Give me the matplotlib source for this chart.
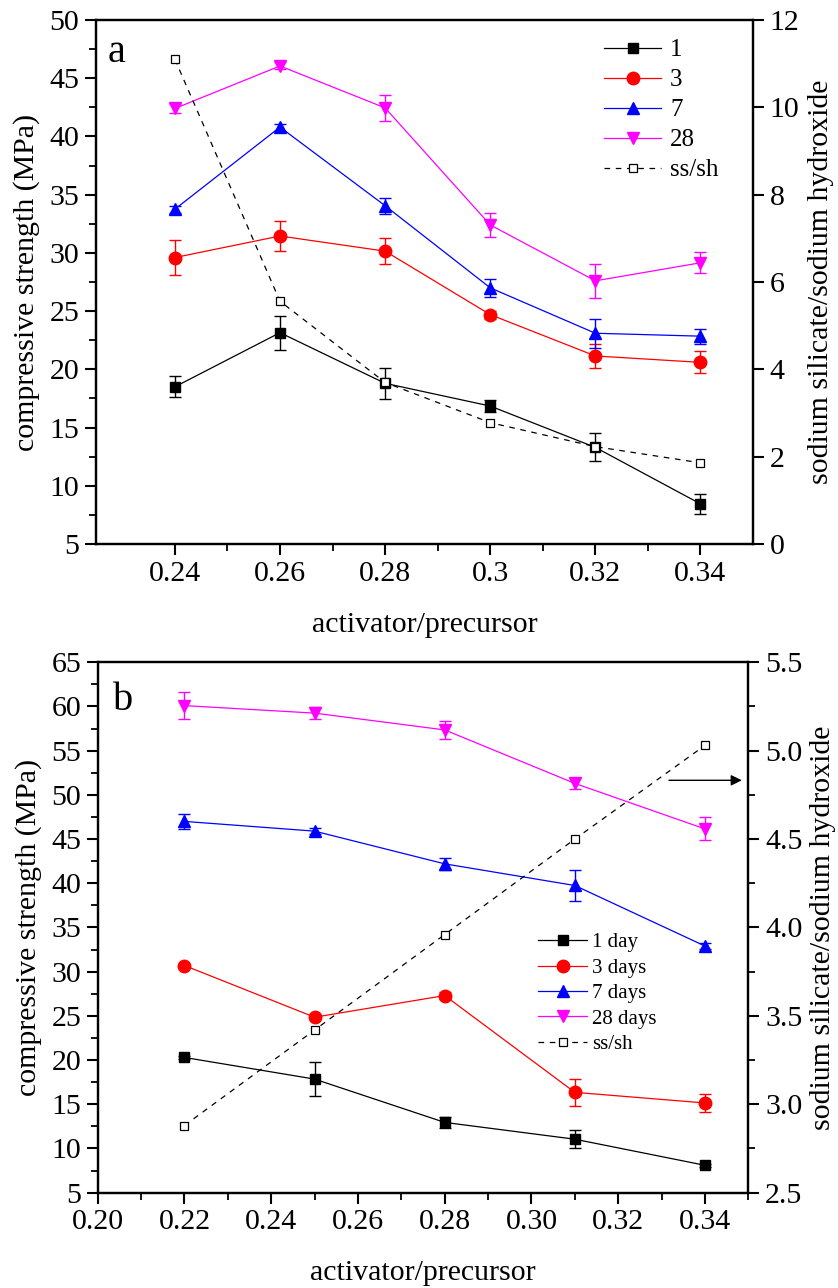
import matplotlib
matplotlib.use("Agg")
import matplotlib.pyplot as plt
from matplotlib.ticker import MultipleLocator, FixedLocator, FormatStrFormatter

plt.rcParams['font.family'] = ['Liberation Serif', 'DejaVu Serif']

# ---------------- data: panel a ----------------
ratio_a = [0.24, 0.26, 0.28, 0.30, 0.32, 0.34]
ratio_a_ticklabels = ["0.24", "0.26", "0.28", "0.3", "0.32", "0.34"]
a_day1 = [18.5, 23.15, 18.8, 16.85, 13.3, 8.45]
a_day1_err = [0.9, 1.45, 1.35, 0.5, 1.2, 0.85]
a_day3 = [29.6, 31.45, 30.15, 24.7, 21.15, 20.6]
a_day3_err = [1.5, 1.25, 1.1, 0.35, 1.0, 0.95]
a_day7 = [33.75, 40.8, 34.05, 27.0, 23.1, 22.85]
a_day7_err = [0.3, 0.3, 0.7, 0.75, 1.25, 0.65]
a_day28 = [42.4, 46.05, 42.45, 32.4, 27.6, 29.15]
a_day28_err = [0.35, 0.3, 1.1, 1.0, 1.45, 0.9]
a_sssh = [11.1, 5.56, 3.70, 2.78, 2.23, 1.86]
a_labels = ["1", "3", "7", "28", "ss/sh"]

# ---------------- data: panel b ----------------
ratio_b = [0.22, 0.25, 0.28, 0.31, 0.34]
b_day1 = [20.3, 17.85, 12.95, 11.05, 8.1]
b_day1_err = [0.2, 1.9, 0.65, 1.05, 0.2]
b_day3 = [30.7, 24.85, 27.3, 16.35, 15.15]
b_day3_err = [0.2, 0.2, 0.35, 1.5, 1.0]
b_day7 = [47.0, 45.9, 42.2, 39.75, 32.9]
b_day7_err = [0.85, 0.3, 0.7, 1.7, 0.3]
b_day28 = [60.1, 59.25, 57.35, 51.3, 46.15]
b_day28_err = [1.55, 0.7, 1.0, 0.65, 1.3]
b_sssh = [2.88, 3.42, 3.96, 4.50, 5.03]
b_labels = ["1 day", "3 days", "7 days", "28 days", "ss/sh"]

colors = ["black", "#ff0000", "#0000ff", "#ff00ff"]
markers = ["s", "o", "^", "v"]
msizes = [6.5, 9, 8.5, 8.5]

TICK_FS = 21.5
LABEL_FS = 21.5

fig = plt.figure(figsize=(8.38, 12.88), dpi=100)
ax_a = fig.add_axes([0.1146, 0.5776, 0.8986 - 0.1146, 0.9845 - 0.5776])
ax_b = fig.add_axes([0.1166, 0.0740, 0.8930 - 0.1166, 0.4858 - 0.0740])


def draw_series(ax, x, y, err, color, marker, ms, label):
    ax.errorbar(x, y, yerr=err, fmt='none', ecolor=color, elinewidth=1.0,
                capsize=4.5, capthick=1.0)
    line, = ax.plot(x, y, color=color, lw=0.9, marker=marker, ms=ms,
                    mfc=color, mec=color, label=label)
    return line


def style_axes(ax):
    for sp in ax.spines.values():
        sp.set_linewidth(1.6)
    ax.tick_params(which='major', direction='out', length=8, width=1.5,
                   labelsize=TICK_FS, pad=4)
    ax.tick_params(which='minor', direction='out', length=5, width=1.3)
    ax.tick_params(top=False, which='both')


def make_panel(ax, x, series, errs, sssh, labels, twin_ylim, twin_major, twin_minor):
    handles = []
    for y, e, c, m, ms, lab in zip(series, errs, colors, markers, msizes, labels[:4]):
        handles.append(draw_series(ax, x, y, e, c, m, ms, lab))
    tw = ax.twinx()
    h, = tw.plot(x, sssh, color='black', lw=0.9, ls=(0, (4.5, 4.5)), marker='s',
                 ms=6, mfc='white', mec='black', mew=0.9, label=labels[4])
    handles.append(h)
    tw.set_ylim(*twin_ylim)
    tw.yaxis.set_major_locator(MultipleLocator(twin_major))
    if twin_minor:
        tw.yaxis.set_minor_locator(MultipleLocator(twin_minor))
    style_axes(ax)
    style_axes(tw)
    tw.tick_params(left=False, which='both')
    ax.tick_params(right=False, which='both')
    return tw, handles


# ---------------- panel a ----------------
tw_a, h_a = make_panel(ax_a, ratio_a, [a_day1, a_day3, a_day7, a_day28],
                       [a_day1_err, a_day3_err, a_day7_err, a_day28_err],
                       a_sssh, a_labels, (0, 12), 2, None)
ax_a.set_xlim(0.225, 0.35)
ax_a.set_ylim(5, 50)
ax_a.yaxis.set_major_locator(MultipleLocator(5))
ax_a.yaxis.set_minor_locator(MultipleLocator(2.5))
ax_a.xaxis.set_major_locator(FixedLocator(ratio_a))
ax_a.set_xticklabels(ratio_a_ticklabels)
ax_a.xaxis.set_minor_locator(FixedLocator([0.25, 0.27, 0.29, 0.31, 0.33]))
ax_a.set_xlabel("activator/precursor", fontsize=LABEL_FS, va='center')
ax_a.xaxis.set_label_coords(0.5, -0.1546)
ax_a.set_ylabel("compressive strength (MPa)", fontsize=LABEL_FS, va='center')
ax_a.yaxis.set_label_coords(-0.1065, 0.5)
tw_a.set_ylabel("sodium silicate/sodium hydroxide", fontsize=LABEL_FS, va='center')
tw_a.yaxis.set_label_coords(1.1035, 0.5)
ax_a.text(0.018, 0.920, "a", transform=ax_a.transAxes, fontsize=29,
          ha='left', va='baseline')
tw_a.legend(handles=h_a, loc='upper left', bbox_to_anchor=(0.773, 0.964),
            frameon=False, fontsize=18, handlelength=2.3, handletextpad=0.35,
            labelspacing=0.3, borderaxespad=0, borderpad=0)

# ---------------- panel b ----------------
tw_b, h_b = make_panel(ax_b, ratio_b, [b_day1, b_day3, b_day7, b_day28],
                       [b_day1_err, b_day3_err, b_day7_err, b_day28_err],
                       b_sssh, b_labels, (2.5, 5.5), 0.5, 0.25)
ax_b.set_xlim(0.20, 0.35)
ax_b.set_ylim(5, 65)
ax_b.yaxis.set_major_locator(MultipleLocator(5))
ax_b.yaxis.set_minor_locator(MultipleLocator(2.5))
ax_b.xaxis.set_major_locator(FixedLocator([0.20, 0.22, 0.24, 0.26, 0.28, 0.30, 0.32, 0.34]))
ax_b.xaxis.set_major_formatter(FormatStrFormatter('%.2f'))
ax_b.xaxis.set_minor_locator(FixedLocator([0.21, 0.23, 0.25, 0.27, 0.29, 0.31, 0.33, 0.35]))
tw_b.yaxis.set_major_formatter(FormatStrFormatter('%.1f'))
ax_b.set_xlabel("activator/precursor", fontsize=LABEL_FS, va='center')
ax_b.xaxis.set_label_coords(0.5, -0.1514)
ax_b.set_ylabel("compressive strength (MPa)", fontsize=LABEL_FS, va='center')
ax_b.yaxis.set_label_coords(-0.106, 0.5)
tw_b.set_ylabel("sodium silicate/sodium hydroxide", fontsize=LABEL_FS, va='center')
tw_b.yaxis.set_label_coords(1.115, 0.5)
ax_b.text(0.0235, 0.910, "b", transform=ax_b.transAxes, fontsize=29,
          ha='left', va='baseline')
tw_b.annotate("", xy=(0.9899, 0.7775), xytext=(0.878, 0.7775),
              xycoords='axes fraction', textcoords='axes fraction',
              arrowprops=dict(arrowstyle='-|>', color='black', lw=1.0,
                              mutation_scale=16, shrinkA=0, shrinkB=0))
tw_b.legend(handles=h_b, loc='upper left', bbox_to_anchor=(0.677, 0.490),
            frameon=False, fontsize=15, handlelength=2.35, handletextpad=0.25,
            labelspacing=0.28, borderaxespad=0, borderpad=0)

fig.savefig("out.png", dpi=100)
